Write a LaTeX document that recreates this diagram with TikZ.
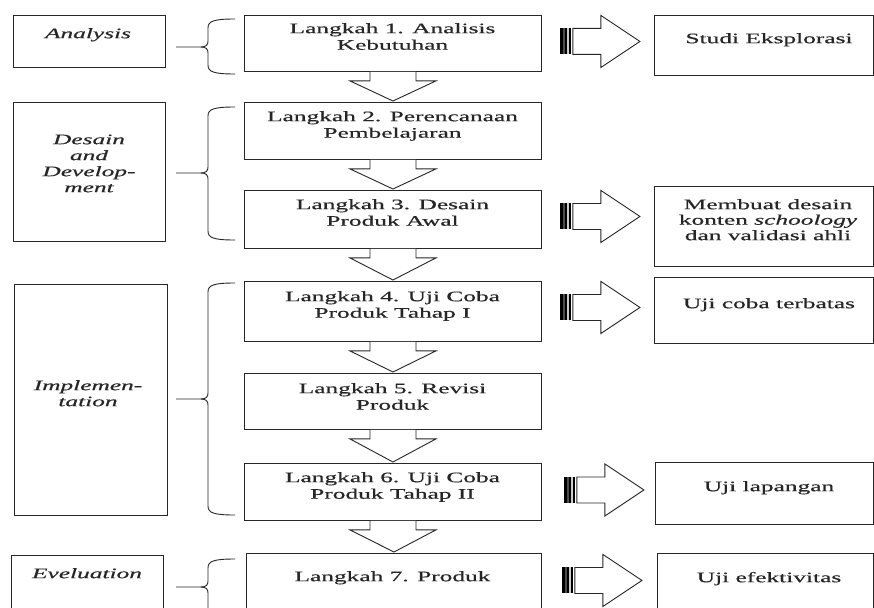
\documentclass[tikz,border=0pt]{standalone}
\usepackage{graphicx}
\usepackage{fontspec}
\setmainfont[FakeBold=0.4]{Liberation Serif}
\newcommand\tstrut{\rule{0pt}{11.5pt}}
\newcommand\sx[1]{\scalebox{1.75}[1]{#1}}
\newcommand\dnarrow[2]{\draw[blk] ([xshift=-23pt]#1.south) -- ++(0,9) -- ++(-20,0) -- ([yshift=1pt]#2.north) -- ([xshift=43pt,yshift=-9pt]#1.south) -- ++(-20,0) -- ++(0,-9);}
\newcommand\rtarrow[3]{%
 \begin{scope}[shift={([xshift=#2pt,yshift=#3pt]#1.east)}]
  \fill[black] (18,-13) rectangle (21,13);
  \fill[gray!60!black] (21,-13) rectangle (23,13);
  \fill[black] (23,-13) rectangle (25.5,13);
  \fill[gray!40] (25.5,-13) rectangle (27.5,13);
  \fill[black] (27.5,-13) rectangle (29,13);
  \draw[blk] (31,-13) -- (59,-13) -- (59,-26) -- (98,0) -- (59,26) -- (59,13) -- (31,13) -- cycle;
 \end{scope}}
\newcommand\brc[3]{%
 \draw[brc] (235,#1) .. controls (214,#1) and (208,{#1+2}) .. (208,{#1+9}) -- (208,{#2-6}) .. controls (208,{#2-2}) and (206,#2) .. (201,#2) -- (176,#2);
 \draw[brc] (235,#3) .. controls (214,#3) and (208,{#3-2}) .. (208,{#3-9}) -- (208,{#2+6}) .. controls (208,{#2+2}) and (206,#2) .. (201,#2);}
\begin{document}
\begin{tikzpicture}[x=1pt,y=-1pt,
  box/.style={draw=black!85, line width=0.9pt, inner sep=0pt, anchor=north west},
  blk/.style={draw=black!85, fill=white, line width=0.9pt, line join=miter},
  brc/.style={draw=black!85, line width=0.9pt},
  txt/.style={font=\fontsize{14.5}{16.5}\selectfont, text=black!85, align=center, inner sep=0pt, anchor=north},
  itx/.style={font=\fontsize{14.5}{16}\selectfont\itshape, text=black!85, align=center, inner sep=0pt, anchor=north}]
\useasboundingbox (0,0) rectangle (874,607);
\clip (0,0) rectangle (874,607);
\fill[white] (0,0) rectangle (874,607);
% left phase boxes
\node[box, minimum width=152pt, minimum height=52pt] (l1) at (13,15) {};
\node[box, minimum width=152pt, minimum height=139pt] (l2) at (13,102) {};
\node[box, minimum width=153pt, minimum height=231pt] (l3) at (14,284) {};
\node[box, minimum width=152pt, minimum height=70pt] (l4) at (11,555) {};
\node[itx] (l1t) at (88,26.5) {\tstrut\sx{Analysis}};
\node[itx] (l2t) at (89,132.5) {\tstrut\sx{Desain}\\\sx{and}\\\sx{Develop-}\\\sx{ment}};
\node[itx] (l3t) at (88,378.5) {\tstrut\sx{Implemen-}\\\sx{tation}};
\node[itx] (l4t) at (87,566.5) {\tstrut\sx{Eveluation}};
% braces
\brc{19}{47}{74}
\brc{107}{173}{240}
\brc{283}{399}{515}
\brc{559}{587}{620}
% main step boxes
\node[box, minimum width=297pt, minimum height=56pt] (m1) at (244,15) {};
\node[box, minimum width=297pt, minimum height=57pt] (m2) at (244,102) {};
\node[box, minimum width=297pt, minimum height=58pt] (m3) at (244,190) {};
\node[box, minimum width=297pt, minimum height=60pt] (m4) at (244,281) {};
\node[box, minimum width=297pt, minimum height=56pt] (m5) at (244,373) {};
\node[box, minimum width=297pt, minimum height=57pt] (m6) at (244,463) {};
\node[box, minimum width=295pt, minimum height=70pt] (m7) at (246,553) {};
\node[txt] (m1t) at (392.5,21.5) {\tstrut\sx{Langkah 1. Analisis}\\\sx{Kebutuhan}};
\node[txt] (m2t) at (392.5,109.5) {\tstrut\sx{Langkah 2. Perencanaan}\\\sx{Pembelajaran}};
\node[txt] (m3t) at (392.5,197.5) {\tstrut\sx{Langkah 3. Desain}\\\sx{Produk Awal}};
\node[txt] (m4t) at (392.5,289.5) {\tstrut\sx{Langkah 4. Uji Coba}\\\sx{Produk Tahap I}};
\node[txt] (m5t) at (392.5,381.5) {\tstrut\sx{Langkah 5. Revisi}\\\sx{Produk}};
\node[txt] (m6t) at (392.5,470.5) {\tstrut\sx{Langkah 6. Uji Coba}\\\sx{Produk Tahap II}};
\node[txt] (m7t) at (392.5,569.5) {\tstrut\sx{Langkah 7. Produk}};
% down arrows
\dnarrow{m1}{m2}
\dnarrow{m2}{m3}
\dnarrow{m3}{m4}
\dnarrow{m4}{m5}
\dnarrow{m5}{m6}
\dnarrow{m6}{m7}
% right boxes
\node[box, minimum width=219pt, minimum height=60pt] (r1) at (654,15) {};
\node[box, minimum width=219pt, minimum height=80pt] (r3) at (654,186) {};
\node[box, minimum width=219pt, minimum height=66pt] (r4) at (654,277) {};
\node[box, minimum width=218pt, minimum height=62pt] (r6) at (655,462) {};
\node[box, minimum width=216pt, minimum height=70pt] (r7) at (657,553) {};
\node[txt] (r1t) at (769,31.5) {\tstrut\sx{Studi Eksplorasi}};
\node[txt, font=\fontsize{14.5}{15.5}\selectfont] (r3t) at (768,197.5) {\tstrut\sx{Membuat desain}\\\sx{konten \textit{schoology}}\\\sx{dan validasi ahli}};
\node[txt] (r4t) at (769,296.5) {\tstrut\sx{Uji coba terbatas}};
\node[txt] (r6t) at (769,479.5) {\tstrut\sx{Uji lapangan}};
\node[txt] (r7t) at (769,570.5) {\tstrut\sx{Uji efektivitas}};
% right block arrows
\rtarrow{m1}{0}{2}
\rtarrow{m3}{0}{3}
\rtarrow{m4}{0}{4}
\rtarrow{m6}{4}{2}
\rtarrow{m7}{2}{8}
\end{tikzpicture}
\end{document}
